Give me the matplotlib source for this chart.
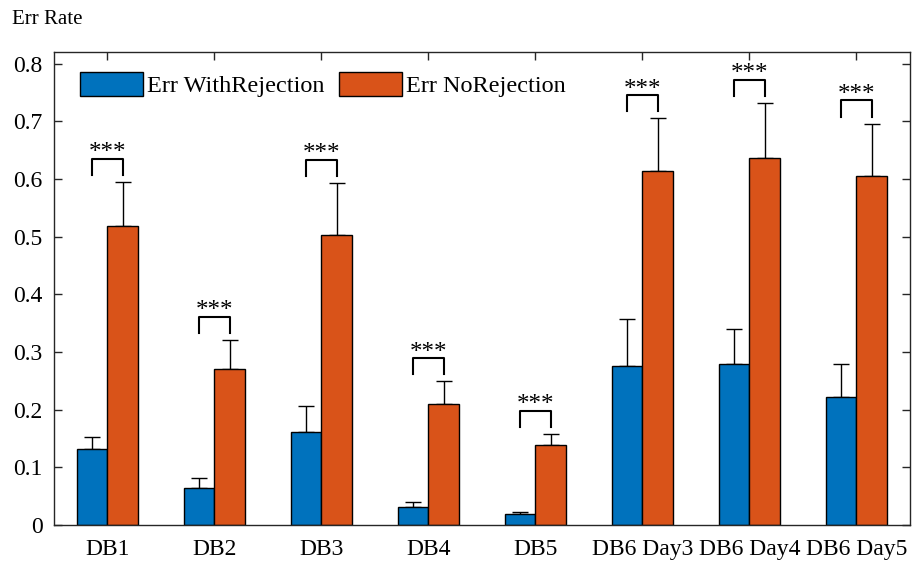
import numpy as np
import matplotlib
matplotlib.use('Agg')
import matplotlib.pyplot as plt

plt.rcParams['font.family'] = ['Liberation Serif', 'DejaVu Serif']

categories = ['DB1', 'DB2', 'DB3', 'DB4', 'DB5', 'DB6 Day3', 'DB6 Day4', 'DB6 Day5']
err_with = [0.132, 0.064, 0.161, 0.032, 0.019, 0.275, 0.279, 0.222]
err_with_sd = [0.021, 0.018, 0.046, 0.008, 0.003, 0.083, 0.060, 0.057]
err_no = [0.519, 0.271, 0.502, 0.209, 0.138, 0.613, 0.637, 0.605]
err_no_sd = [0.076, 0.050, 0.091, 0.040, 0.020, 0.092, 0.095, 0.091]
signif = ['***'] * 8

blue = '#0072BD'
orange = '#D95319'
axcol = '#262626'

fig = plt.figure(figsize=(9.13, 5.69), dpi=100)
ax = fig.add_axes([0.059, 0.0773, 0.9377, 0.8313])

x = np.arange(len(categories))
w = 0.287
ax.bar(x - w / 2, err_with, w, color=blue, edgecolor='black', linewidth=1.0,
       label='Err WithRejection', zorder=2)
ax.bar(x + w / 2, err_no, w, color=orange, edgecolor='black', linewidth=1.0,
       label='Err NoRejection', zorder=2)

zeros = np.zeros(len(x))
ax.errorbar(x - w / 2, err_with, yerr=[zeros, err_with_sd], fmt='none',
            ecolor='black', elinewidth=1.0, capsize=6, capthick=1.0, zorder=1)
ax.errorbar(x + w / 2, err_no, yerr=[zeros, err_no_sd], fmt='none',
            ecolor='black', elinewidth=1.0, capsize=6, capthick=1.0, zorder=1)

# significance brackets above each pair
for i in range(len(x)):
    top = err_no[i] + err_no_sd[i]
    x1, x2 = x[i] - w / 2, x[i] + w / 2
    ax.plot([x1, x1, x2, x2], [top + 0.012, top + 0.04, top + 0.04, top + 0.012],
            color='black', linewidth=1.5, zorder=3)
    ax.text(x[i], top + 0.05, signif[i], ha='center', va='center', fontsize=18)

ax.set_xlim(-0.5, 7.5)
ax.set_ylim(0, 0.82)
ax.set_xticks(x)
ax.set_xticklabels(categories)
ax.set_yticks(np.arange(0, 0.81, 0.1))
ax.set_yticklabels(['0', '0.1', '0.2', '0.3', '0.4', '0.5', '0.6', '0.7', '0.8'])
ax.tick_params(direction='in', top=True, right=True, length=6, width=1,
               color=axcol, labelsize=17, labelcolor='black', pad=8)
ax.tick_params(axis='x', pad=10)
for s in ax.spines.values():
    s.set_color(axcol)
    s.set_linewidth(1.0)

fig.text(0.013, 0.965, 'Err Rate', fontsize=15, ha='left', va='center')

ax.legend(loc='upper left', ncol=2, frameon=False, fontsize=17.5,
          handlelength=2.6, handleheight=1.1, handletextpad=0.15,
          columnspacing=0.6, bbox_to_anchor=(0.007, 1.0), borderaxespad=0.44)

fig.savefig('out.png', dpi=100)
